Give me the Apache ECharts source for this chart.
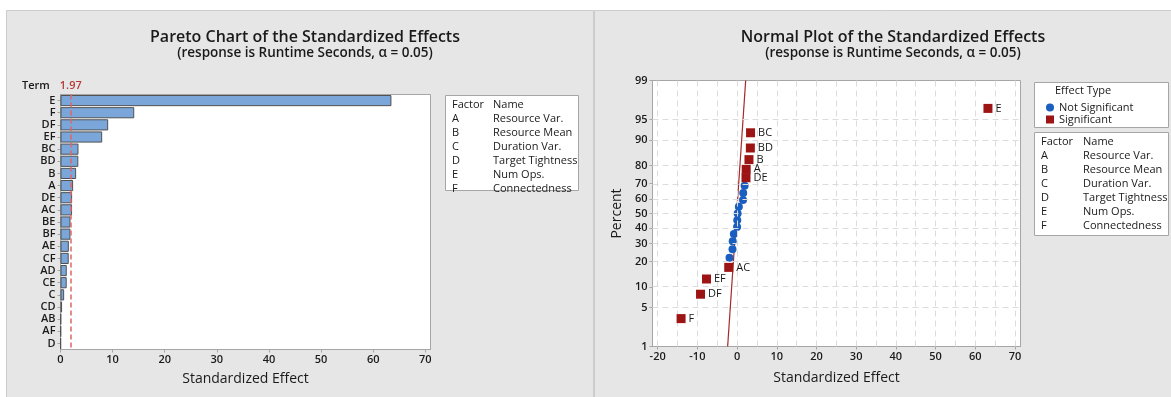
<!DOCTYPE html>
<html>
<head>
<meta charset="utf-8">
<script src="https://cdn.jsdelivr.net/npm/echarts@6/dist/echarts.min.js"></script>
<style>
  html, body { margin: 0; padding: 0; background: #fff; }
  #main { width: 1171px; height: 397px; }
</style>
</head>
<body>
<div id="main"></div>
<script>
// Pareto chart data (absolute standardized effects)
const paretoTerms = ['E','F','DF','EF','BC','BD','B','A','DE','AC','BE','BF','AE','CF','AD','CE','C','CD','AB','AF','D'];
const paretoValues = [63.5,14.15,9.15,8.0,3.45,3.42,3.0,2.42,2.23,2.22,1.92,1.91,1.6,1.58,1.2,1.19,0.7,0.3,0.1,0.08,0.05];
const criticalValue = 1.97;
const paretoTicks = [0,10,20,30,40,50,60,70];

// factor legend
const factorCodes = ['A','B','C','D','E','F'];
const factorNames = ['Resource Var.','Resource Mean','Duration Var.','Target Tightness','Num Ops.','Connectedness'];

// normal plot data (signed effects, percent rank)
const sigTerms = ['F','DF','EF','AC','DE','A','B','BD','BC','E'];
const sigEffects = [-14.1,-9.2,-7.7,-2.1,2.25,2.3,3.0,3.35,3.4,63.2];
const sigPercents = [3.3,7.9,12.6,17.3,73.4,78.0,82.7,87.4,92.1,96.7];
const nsTerms = ['BE','AD','CE','C','D','AB','AF','CD','AE','CF','BF'];
const nsEffects = [-1.9,-1.15,-1.1,-0.8,0.0,0.05,0.15,0.45,1.5,1.55,1.9];
const nsPercents = [22.0,26.6,31.3,36.0,40.7,45.3,50.0,54.7,59.3,64.0,68.7];
const fitLine = [[-2.37,1],[2.17,99]];
const percentTicks = [1,5,10,20,30,40,50,60,70,80,90,95,99];
const normalXTicks = [-20,-10,0,10,20,30,40,50,60,70];
const normalXGrid = [-20,-15,-10,-5,0,5,10,15,20,25,30,35,40,45,50,55,60,65,70];

const FONT = 'Open Sans';
const TXT = '#1a1a1a';
const FRAME = '#a6a6a6';

// inverse standard normal CDF (probability scale)
function probit(p) {
  const a = [-3.969683028665376e+01, 2.209460984245205e+02, -2.759285104469687e+02, 1.383577518672690e+02, -3.066479806614716e+01, 2.506628277459239e+00];
  const b = [-5.447609879822406e+01, 1.615858368580409e+02, -1.556989798598866e+02, 6.680131188771972e+01, -1.328068155288572e+01];
  const c = [-7.784894002430293e-03, -3.223964580411365e-01, -2.400758277161838e+00, -2.549732539343734e+00, 4.374664141464968e+00, 2.938163982698783e+00];
  const d = [7.784695709041462e-03, 3.224671290700398e-01, 2.445134137142996e+00, 3.754408661907416e+00];
  const pl = 0.02425;
  let q, r;
  if (p < pl) {
    q = Math.sqrt(-2 * Math.log(p));
    return (((((c[0]*q+c[1])*q+c[2])*q+c[3])*q+c[4])*q+c[5]) / ((((d[0]*q+d[1])*q+d[2])*q+d[3])*q+1);
  }
  if (p > 1 - pl) {
    q = Math.sqrt(-2 * Math.log(1 - p));
    return -(((((c[0]*q+c[1])*q+c[2])*q+c[3])*q+c[4])*q+c[5]) / ((((d[0]*q+d[1])*q+d[2])*q+d[3])*q+1);
  }
  q = p - 0.5; r = q * q;
  return (((((a[0]*r+a[1])*r+a[2])*r+a[3])*r+a[4])*r+a[5])*q / (((((b[0]*r+b[1])*r+b[2])*r+b[3])*r+b[4])*r+1);
}
const pz = p => probit(p / 100);
const percentZ = percentTicks.map(pz);

function factorTable(x0, y0, w, h, codeX, nameX, rowY) {
  const els = [{
    type: 'rect', shape: { x: x0, y: y0, width: w, height: h },
    style: { fill: '#fff', stroke: FRAME, lineWidth: 1 }
  }];
  const rows = [['Factor', 'Name']].concat(factorCodes.map((c, i) => [c, factorNames[i]]));
  rows.forEach((r, i) => {
    els.push({ type: 'text', x: codeX, y: rowY + i * 14, style: { text: r[0], font: '11px "' + FONT + '"', fill: TXT, textVerticalAlign: 'middle' } });
    els.push({ type: 'text', x: nameX, y: rowY + i * 14, style: { text: r[1], font: '11px "' + FONT + '"', fill: TXT, textVerticalAlign: 'middle' } });
  });
  return els;
}

const chart = echarts.init(document.getElementById('main'));

chart.setOption({
  backgroundColor: '#fff',
  animation: false,
  textStyle: { fontFamily: FONT },
  title: [
    {
      text: 'Pareto Chart of the Standardized Effects',
      subtext: '(response is Runtime Seconds, \u03b1 = 0.05)',
      left: 300, top: 24, textAlign: 'center', itemGap: 1,
      textStyle: { fontSize: 16, fontWeight: 600, color: TXT, fontFamily: FONT },
      subtextStyle: { fontSize: 13.5, fontWeight: 600, color: TXT, fontFamily: FONT }
    },
    {
      text: 'Normal Plot of the Standardized Effects',
      subtext: '(response is Runtime Seconds, \u03b1 = 0.05)',
      left: 888, top: 24, textAlign: 'center', itemGap: 1,
      textStyle: { fontSize: 16, fontWeight: 600, color: TXT, fontFamily: FONT },
      subtextStyle: { fontSize: 13.5, fontWeight: 600, color: TXT, fontFamily: FONT }
    }
  ],
  graphic: [
    { type: 'rect', z: -10, shape: { x: 6.5, y: 10.5, width: 587, height: 390 }, style: { fill: '#e6e6e6', stroke: '#cccccc' } },
    { type: 'rect', z: -10, shape: { x: 594.5, y: 10.5, width: 580, height: 390 }, style: { fill: '#e6e6e6', stroke: '#cccccc' } },
    { type: 'text', x: 22, y: 86, style: { text: 'Term', font: '600 11px "' + FONT + '"', fill: TXT, textVerticalAlign: 'middle' } },
    { type: 'group', children: factorTable(445.5, 95.5, 133, 95, 452, 493, 105) },
    { type: 'rect', shape: { x: 1034.5, y: 82.5, width: 134, height: 45 }, style: { fill: '#fff', stroke: FRAME } },
    { type: 'text', x: 1055, y: 91, style: { text: 'Effect Type', font: '11px "' + FONT + '"', fill: TXT, textVerticalAlign: 'middle' } },
    { type: 'group', children: factorTable(1034.5, 132.5, 134, 103, 1041, 1083, 142) }
  ],
  legend: {
    data: ['Not Significant', 'Significant'],
    orient: 'vertical', left: 1041, top: 97,
    itemWidth: 8, itemHeight: 8, itemGap: 1,
    textStyle: { fontSize: 11, color: TXT, fontFamily: FONT },
    selectedMode: false
  },
  grid: [
    { left: 60.5, top: 94.5, width: 370, height: 255, show: true, backgroundColor: '#fff', borderColor: FRAME, borderWidth: 1 },
    { left: 652.5, top: 80.5, width: 368, height: 266, show: true, backgroundColor: '#fff', borderColor: FRAME, borderWidth: 1 }
  ],
  xAxis: [
    {
      gridIndex: 0, type: 'value', min: 0, max: 71,
      axisLine: { show: true, onZero: false, lineStyle: { color: FRAME } },
      axisTick: { show: true, length: 3, customValues: paretoTicks, lineStyle: { color: FRAME } },
      axisLabel: { customValues: paretoTicks, fontSize: 11, fontWeight: 600, color: TXT, margin: 5 },
      splitLine: { show: false },
      name: 'Standardized Effect', nameLocation: 'middle', nameGap: 23,
      nameTextStyle: { fontSize: 14, color: TXT, fontWeight: 500 }
    },
    {
      gridIndex: 1, type: 'value', min: -21.3, max: 71.4,
      axisLine: { show: true, onZero: false, lineStyle: { color: FRAME } },
      axisTick: { show: true, length: 3, customValues: normalXTicks, lineStyle: { color: FRAME } },
      axisLabel: { customValues: normalXTicks, fontSize: 11, fontWeight: 600, color: TXT, margin: 5 },
      splitLine: { show: false },
      name: 'Standardized Effect', nameLocation: 'middle', nameGap: 25,
      nameTextStyle: { fontSize: 14, color: TXT, fontWeight: 500 }
    }
  ],
  yAxis: [
    {
      gridIndex: 0, type: 'category', data: paretoTerms, inverse: true,
      axisLine: { show: true, onZero: false, lineStyle: { color: FRAME } },
      axisTick: { show: true, length: 3, alignWithLabel: true, lineStyle: { color: FRAME } },
      axisLabel: { fontSize: 11, fontWeight: 600, color: TXT, margin: 5, interval: 0 },
      splitLine: { show: false }
    },
    {
      gridIndex: 1, type: 'value', min: pz(1), max: pz(99),
      axisLine: { show: true, onZero: false, lineStyle: { color: FRAME } },
      axisTick: { show: true, length: 3, customValues: percentZ, lineStyle: { color: FRAME } },
      axisLabel: {
        customValues: percentZ, fontSize: 11, fontWeight: 600, color: TXT, margin: 5,
        formatter: v => {
          let best = 0;
          percentZ.forEach((z, i) => { if (Math.abs(z - v) < Math.abs(percentZ[best] - v)) best = i; });
          return String(percentTicks[best]);
        }
      },
      splitLine: { show: false },
      name: 'Percent', nameLocation: 'middle', nameGap: 28,
      nameTextStyle: { fontSize: 14, color: TXT, fontWeight: 500 }
    }
  ],
  series: [
    {
      name: 'critical', type: 'line', xAxisIndex: 0, yAxisIndex: 0, data: [], z: 1,
      markLine: {
        silent: true, symbol: 'none', animation: false,
        lineStyle: { color: '#e06666', type: [5, 3], width: 1.5 },
        label: { show: true, position: 'start', formatter: String(criticalValue), color: '#b83a3a', fontSize: 11, fontWeight: 600, distance: 3 },
        data: [{ xAxis: criticalValue }]
      }
    },
    {
      name: 'Effect', type: 'bar', xAxisIndex: 0, yAxisIndex: 0, z: 3,
      data: paretoValues, barCategoryGap: '8%',
      itemStyle: { color: '#7ba6da', borderColor: '#505050', borderWidth: 1 }
    },
    {
      name: 'grid', type: 'line', xAxisIndex: 1, yAxisIndex: 1, data: [], z: 1,
      markLine: {
        silent: true, symbol: 'none', animation: false, label: { show: false },
        lineStyle: { color: '#dcdcdc', type: [6, 4], width: 1 },
        data: normalXGrid.map(v => ({ xAxis: v })).concat(percentZ.map(v => ({ yAxis: v })))
      }
    },
    {
      name: 'fit', type: 'line', xAxisIndex: 1, yAxisIndex: 1, z: 2, silent: true,
      data: fitLine.map(p => [p[0], pz(p[1])]), symbol: 'none',
      lineStyle: { color: '#a52a2a', width: 1.2 }
    },
    {
      name: 'Not Significant', type: 'scatter', xAxisIndex: 1, yAxisIndex: 1, z: 4,
      symbol: 'circle', symbolSize: 8,
      itemStyle: { color: '#1a5fc0', opacity: 1 },
      data: nsEffects.map((x, i) => ({ name: nsTerms[i], value: [x, pz(nsPercents[i])] }))
    },
    {
      name: 'Significant', type: 'scatter', xAxisIndex: 1, yAxisIndex: 1, z: 5,
      symbol: 'rect', symbolSize: 9,
      itemStyle: { color: '#9c1414', opacity: 1 },
      label: { show: true, position: 'right', formatter: '{b}', fontSize: 11, color: TXT, distance: 3 },
      data: sigEffects.map((x, i) => ({ name: sigTerms[i], value: [x, pz(sigPercents[i])] }))
    }
  ]
});
</script>
</body>
</html>
